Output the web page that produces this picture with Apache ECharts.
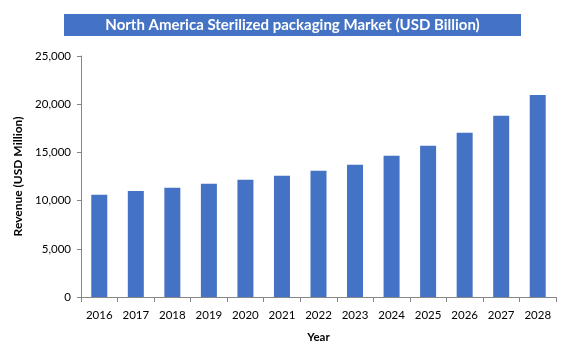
<!DOCTYPE html>
<html><head><meta charset="utf-8">
<script src="https://cdn.jsdelivr.net/npm/echarts@6/dist/echarts.min.js"></script>
<style>html,body{margin:0;padding:0;background:#fff}#c{width:584px;height:356px}</style>
</head><body><div id="c"></div>
<script>
const years = ['2016','2017','2018','2019','2020','2021','2022','2023','2024','2025','2026','2027','2028'];
const revenue = [10600, 11000, 11330, 11740, 12160, 12570, 13090, 13710, 14640, 15680, 17030, 18790, 20960];
const titleText = 'North America Sterilized packaging Market (USD Billion)';

const chart = echarts.init(document.getElementById('c'), null, {renderer:'canvas'});
const font = 'Lato, "Open Sans", sans-serif';
chart.setOption({
  animation:false,
  graphic:[
    {type:'rect', shape:{x:64,y:14,width:457,height:22}, style:{fill:'#4472C4'}},
    {type:'text', x:292.5, y:25, style:{text:titleText, fill:'#fff', font:'bold 15px '+font, align:'center', verticalAlign:'middle'}}
  ],
  grid:{left:81,right:28,top:56,bottom:59},
  xAxis:{
    type:'category', data:years,
    name:'Year', nameLocation:'middle', nameGap:34,
    nameTextStyle:{fontFamily:font,fontWeight:'bold',fontSize:11.5,color:'#000'},
    axisLine:{lineStyle:{color:'#868686'}},
    axisTick:{show:true,alignWithLabel:false,length:5,lineStyle:{color:'#868686'}},
    axisLabel:{fontFamily:font,fontSize:11.5,color:'#000',margin:12}
  },
  yAxis:{
    type:'value', min:0, max:25000, interval:5000,
    name:'Revenue (USD Million)', nameLocation:'middle', nameGap:52,
    nameTextStyle:{fontFamily:font,fontWeight:'bold',fontSize:12,color:'#000'},
    axisLine:{show:true,lineStyle:{color:'#868686'}},
    axisTick:{show:true,length:4,lineStyle:{color:'#868686'}},
    splitLine:{show:false},
    axisLabel:{fontFamily:font,fontSize:11.5,color:'#000',margin:10,
      formatter:v=>v.toLocaleString('en-US')}
  },
  series:[{type:'bar', data:revenue, barWidth:16, itemStyle:{color:'#4472C4'}}]
});
</script></body></html>
